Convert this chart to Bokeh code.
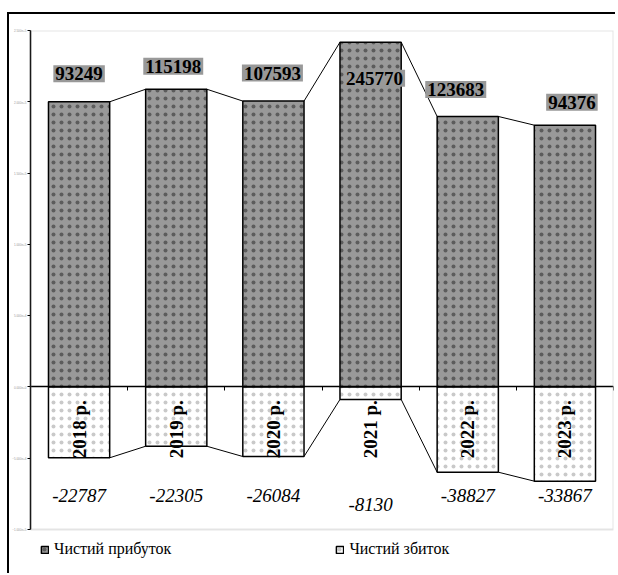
import math
from bokeh.plotting import figure
from bokeh.models import (ColumnDataSource, Range1d, FixedTicker, LinearAxis,
                          LabelSet, Legend, LegendItem, BoxAnnotation)
from bokeh.core.properties import value
from bokeh.embed import file_html
from bokeh.resources import INLINE

# ---------------- data ----------------
years = ["2018 р.", "2019 р.", "2020 р.", "2021 р.", "2022 р.", "2023 р."]
profit_labels = ["93249", "115198", "107593", "245770", "123683", "94376"]
loss_labels = ["-22787", "-22305", "-26084", "-8130", "-38827", "-33867"]
# bar heights as drawn against the chart's value axis
profit_bars = [200000, 208800, 200500, 241800, 189700, 183600]
loss_bars = [-49700, -41600, -48800, -8800, -59800, -66100]
y_ticks = [-100000, -50000, 0, 50000, 100000, 150000, 200000, 250000]
series_names = ["Чистий прибуток", "Чистий збиток"]

# label nudges (screen px, positive = up)
profit_dx = [0, -3, -1, 4, -12, 7]
profit_dy = [28, 23, 28, -36, 27, 23]
loss_dy = [0, 0, 0, -9, 0, 0]

FONT = "Liberation Serif"
BAR_W = 0.63
n = len(years)
xc = [i + 0.5 for i in range(n)]
Y_MIN, Y_MAX = y_ticks[0], y_ticks[-1]

src = ColumnDataSource(dict(
    x=xc, years=years, profit=profit_bars, loss=loss_bars,
    plab=profit_labels, llab=loss_labels,
    pdx=profit_dx, pdy_down=[-d for d in profit_dy], ldy=loss_dy,
    ylab=[-50000] * n, lly=[-76500] * n,
))

# frame extends below the plot area to host the legend
p = figure(width=608, height=561, output_backend="svg", toolbar_location=None,
           x_range=Range1d(0, n), y_range=Range1d(-130860, Y_MAX),
           min_border_left=19, min_border_right=4, min_border_top=16,
           min_border_bottom=2, x_axis_type=None, y_axis_type=None)
p.styles = {"border-left": "2px solid black", "border-top": "2px solid black",
            "position": "relative", "top": "12px", "left": "7px"}
p.grid.visible = False
p.outline_line_color = None
p.background_fill_color = "white"
p.border_fill_color = "white"

# plot-area border
p.add_layout(BoxAnnotation(left=0, right=n, bottom=Y_MIN, top=Y_MAX,
                           fill_alpha=0, line_color="#a6a6a6", line_width=2))

# value axis (tiny labels as in the original)
yaxis = LinearAxis(ticker=FixedTicker(ticks=y_ticks), bounds=(Y_MIN, Y_MAX))
yaxis.axis_line_color = "black"
yaxis.axis_line_width = 1.5
yaxis.major_tick_out = 3
yaxis.major_tick_in = 0
yaxis.minor_tick_line_color = None
yaxis.major_tick_line_color = "black"
yaxis.major_label_text_font_size = "3px"
yaxis.major_label_text_color = "#999999"
yaxis.major_label_standoff = 1
p.add_layout(yaxis, "left")

# category axis on the zero line
xaxis = LinearAxis(ticker=FixedTicker(ticks=list(range(n + 1))))
xaxis.fixed_location = 0
xaxis.axis_line_color = "black"
xaxis.axis_line_width = 1.5
xaxis.major_tick_out = 4
xaxis.major_tick_in = 0
xaxis.major_tick_line_color = "black"
xaxis.minor_tick_line_color = None
xaxis.major_label_overrides = {i: "" for i in range(n + 1)}
xaxis.major_label_standoff = 0
p.add_layout(xaxis, "below")

# connector lines
sx0 = [xc[i] + BAR_W / 2 for i in range(n - 1)]
sx1 = [xc[i + 1] - BAR_W / 2 for i in range(n - 1)]
p.segment(x0=sx0, y0=profit_bars[:-1], x1=sx1, y1=profit_bars[1:],
          line_color="black", line_width=1)
p.segment(x0=sx0, y0=loss_bars[:-1], x1=sx1, y1=loss_bars[1:],
          line_color="black", line_width=1)

r_profit = p.vbar(x="x", top="profit", bottom=0, width=BAR_W, source=src,
                  fill_color="#999999", line_color="black", line_width=1.5,
                  hatch_pattern="dot", hatch_color="black", hatch_scale=8,
                  hatch_alpha=0.4)
r_loss = p.vbar(x="x", top=0, bottom="loss", width=BAR_W, source=src,
                fill_color="white", line_color="black", line_width=1.5,
                hatch_pattern="dot", hatch_color="#888888", hatch_scale=8,
                hatch_alpha=0.45)

# profit value labels with gray boxes
p.text(x="x", y="profit", text="plab", source=src,
       x_offset="pdx", y_offset="pdy_down",
       text_align="center", text_baseline="middle",
       text_font=value(FONT), text_font_style="bold",
       text_font_size="19px", text_color="black",
       background_fill_color="#999999", padding=2)
# year labels (vertical)
p.add_layout(LabelSet(x="x", y="ylab", text="years", source=src,
                      angle=math.pi / 2, text_align="left",
                      text_baseline="middle", text_font=FONT,
                      text_font_style="bold", text_font_size="19px",
                      text_color="black"))
# loss value labels
p.add_layout(LabelSet(x="x", y="lly", text="llab", source=src,
                      y_offset="ldy", text_align="center",
                      text_baseline="middle", text_font=FONT,
                      text_font_style="italic", text_font_size="19px",
                      text_color="black"))

legend = Legend(items=[LegendItem(label=series_names[0], renderers=[r_profit]),
                       LegendItem(label=series_names[1], renderers=[r_loss])],
                location=(10, 15), orientation="horizontal",
                spacing=164, padding=0, margin=0,
                glyph_width=9, glyph_height=9, label_standoff=5,
                label_text_font=FONT, label_text_font_size="16px",
                label_text_color="black",
                border_line_color=None, background_fill_alpha=0)
p.add_layout(legend)

open("out.html", "w").write(file_html(p, INLINE))
